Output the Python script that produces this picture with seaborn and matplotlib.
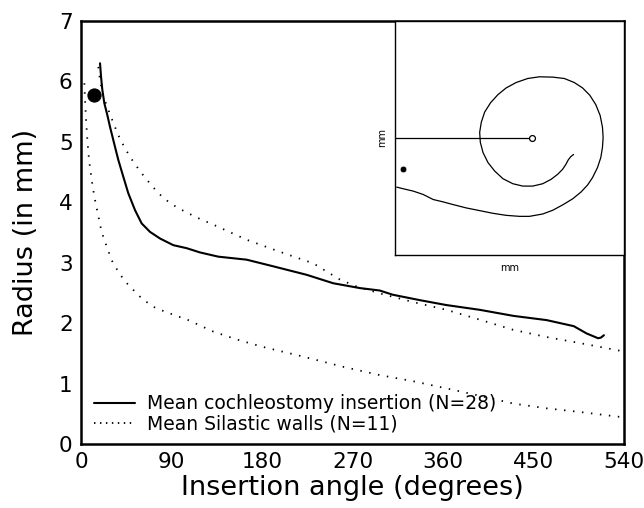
import numpy as np
import pandas as pd
import matplotlib
matplotlib.use("Agg")
import matplotlib.pyplot as plt
import seaborn as sns

# ---- data ----
coch_angle = [18.9, 19.9, 21.2, 23.2, 26.5, 28.8, 31.2, 34.5, 37.1, 42.1, 47.0, 53.7,
              60.3, 68.6, 78.6, 91.8, 105.1, 118.3, 136.5, 164.7, 191.2, 224.3, 250.8,
              277.3, 297.0, 310.0, 337.0, 363.0, 396.6, 430.0, 463.0, 490.0, 502.7,
              514.2, 517.0, 520.0]
coch_radius = [6.30, 6.08, 5.86, 5.64, 5.42, 5.25, 5.09, 4.87, 4.70, 4.42, 4.15, 3.87,
               3.65, 3.51, 3.40, 3.29, 3.24, 3.17, 3.10, 3.05, 2.94, 2.80, 2.66,
               2.58, 2.54, 2.47, 2.38, 2.30, 2.22, 2.12, 2.05, 1.95, 1.83,
               1.75, 1.76, 1.80]

outer_angle = [17.2, 18.9, 22.2, 27.2, 32.2, 37.1, 43.8, 52.0, 60.3, 68.6, 76.9, 86.8,
               96.8, 106.7, 113.4, 131.5, 164.7, 197.8, 230.9, 257.5, 275.0, 300.0,
               330.0, 363.4, 396.0, 429.6, 463.0, 496.0, 540.0]
outer_radius = [6.24, 6.02, 5.75, 5.53, 5.31, 5.11, 4.89, 4.67, 4.48, 4.31, 4.15, 4.01,
                3.90, 3.82, 3.76, 3.63, 3.38, 3.18, 2.99, 2.72, 2.60, 2.48,
                2.35, 2.22, 2.06, 1.89, 1.77, 1.67, 1.53]

inner_angle = [3.3, 4.0, 5.0, 6.3, 8.0, 10.6, 13.3, 16.6, 20.5, 25.5, 30.5, 37.1, 43.8,
               52.0, 60.3, 71.9, 83.5, 96.8, 106.7, 131.5, 154.8, 180.0, 220.0, 260.0,
               297.0, 330.0, 363.4, 396.0, 429.6, 463.0, 496.0, 540.0]
inner_radius = [5.97, 5.69, 5.36, 5.03, 4.70, 4.37, 4.09, 3.82, 3.51, 3.27, 3.04, 2.85,
                2.69, 2.55, 2.41, 2.27, 2.19, 2.11, 2.05, 1.86, 1.73, 1.61, 1.45, 1.28,
                1.14, 1.04, 0.92, 0.80, 0.67, 0.59, 0.53, 0.44]

marker_angle = [12.9]
marker_radius = [5.78]

x_ticks = [0, 90, 180, 270, 360, 450, 540]
y_ticks = [0, 1, 2, 3, 4, 5, 6, 7]

# inset spiral (mm)
spiral_x = [0.072, 0.362, 0.797, 1.232, 1.667, 2.101, 2.536, 3.116, 3.696, 4.275, 4.855,
            5.435, 5.870, 6.449, 6.884, 7.319, 7.754, 8.116, 8.406, 8.623, 8.841, 8.986,
            9.058, 9.087, 9.058, 8.957, 8.768, 8.507, 8.188, 7.826, 7.391, 6.884, 6.304,
            5.797, 5.290, 4.855, 4.493, 4.174, 3.913, 3.768, 3.696, 3.725, 3.841, 4.058,
            4.348, 4.710, 5.145, 5.580, 6.014, 6.449, 6.812, 7.101, 7.319, 7.464, 7.565,
            7.681, 7.797]
spiral_y = [2.902, 2.830, 2.730, 2.586, 2.371, 2.270, 2.155, 2.011, 1.897, 1.782, 1.695,
            1.652, 1.652, 1.753, 1.911, 2.141, 2.399, 2.687, 2.989, 3.305, 3.736, 4.167,
            4.598, 5.029, 5.460, 5.963, 6.422, 6.825, 7.141, 7.371, 7.543, 7.601, 7.615,
            7.543, 7.371, 7.141, 6.853, 6.509, 6.106, 5.675, 5.244, 4.813, 4.382, 3.951,
            3.592, 3.262, 3.046, 2.945, 2.945, 3.046, 3.233, 3.448, 3.664, 3.879, 4.066,
            4.210, 4.296]
center_x = [6.0]
center_y = [5.0]
dot_x = [0.35]
dot_y = [3.66]

# ---- plot ----
sns.set_style("white")
plt.rcParams["font.family"] = ["DejaVu Sans"]
plt.rcParams["text.color"] = "black"
plt.rcParams["axes.labelcolor"] = "black"
plt.rcParams["xtick.color"] = "black"
plt.rcParams["ytick.color"] = "black"

fig = plt.figure(figsize=(6.44, 5.08), dpi=100)
ax = fig.add_axes([0.1258, 0.126, 0.8432, 0.8327])

dot_style = dict(linestyle=(0, (0.8, 4.2)), linewidth=1.3, color="black")

sns.lineplot(x=coch_angle, y=coch_radius, ax=ax, color="black", linewidth=1.5,
             estimator=None, label="Mean cochleostomy insertion (N=28)")
sns.lineplot(x=outer_angle, y=outer_radius, ax=ax, estimator=None,
             label="Mean Silastic walls (N=11)", **dot_style)
sns.lineplot(x=inner_angle, y=inner_radius, ax=ax, estimator=None, **dot_style)
sns.scatterplot(x=marker_angle, y=marker_radius, ax=ax, color="black", s=90,
                edgecolor="black", zorder=5)

ax.set_xlim(0, 540)
ax.set_ylim(0, 7)
ax.set_xticks(x_ticks)
ax.set_yticks(y_ticks)
ax.tick_params(direction="in", length=6, width=1.3, labelsize=15.5, pad=6,
               top=False, right=False, colors="black")
for s in ax.spines.values():
    s.set_linewidth(1.8)
    s.set_color("black")
ax.set_xlabel("Insertion angle (degrees)", fontsize=19.5, labelpad=2, color="black")
ax.set_ylabel("Radius (in mm)", fontsize=19.5, labelpad=14, color="black")

leg = ax.legend(loc="lower left", bbox_to_anchor=(0.01, 0.008), frameon=False,
                fontsize=13.5, handlelength=2.2, handletextpad=0.65,
                labelspacing=0.05, borderaxespad=0.0)
for t in leg.get_texts():
    t.set_color("black")
leg.legend_handles[1].set_linestyle((0, (0.8, 2.5)))

# inset
iax = fig.add_axes([0.6134, 0.498, 0.3556, 0.4607])
sns.lineplot(x=spiral_x, y=spiral_y, ax=iax, sort=False, estimator=None,
             color="black", linewidth=0.9)
iax.plot([0, center_x[0]], [center_y[0], center_y[0]], color="black", linewidth=0.9)
sns.scatterplot(x=center_x, y=center_y, ax=iax, s=18, facecolor="white",
                edgecolor="black", linewidth=0.9, zorder=5)
sns.scatterplot(x=dot_x, y=dot_y, ax=iax, s=22, color="black", zorder=5)
iax.set_xlim(0, 10)
iax.set_ylim(0, 10)
iax.set_xticks(range(1, 10))
iax.set_yticks(range(1, 10))
iax.set_xticklabels([])
iax.set_yticklabels([])
iax.tick_params(direction="in", length=2.5, width=0.8, top=False, right=False)
for s in iax.spines.values():
    s.set_linewidth(1.0)
    s.set_color("black")
iax.set_xlabel("mm", fontsize=7, labelpad=2)
iax.set_ylabel("mm", fontsize=7, labelpad=2)

fig.savefig("out.png", dpi=100)
